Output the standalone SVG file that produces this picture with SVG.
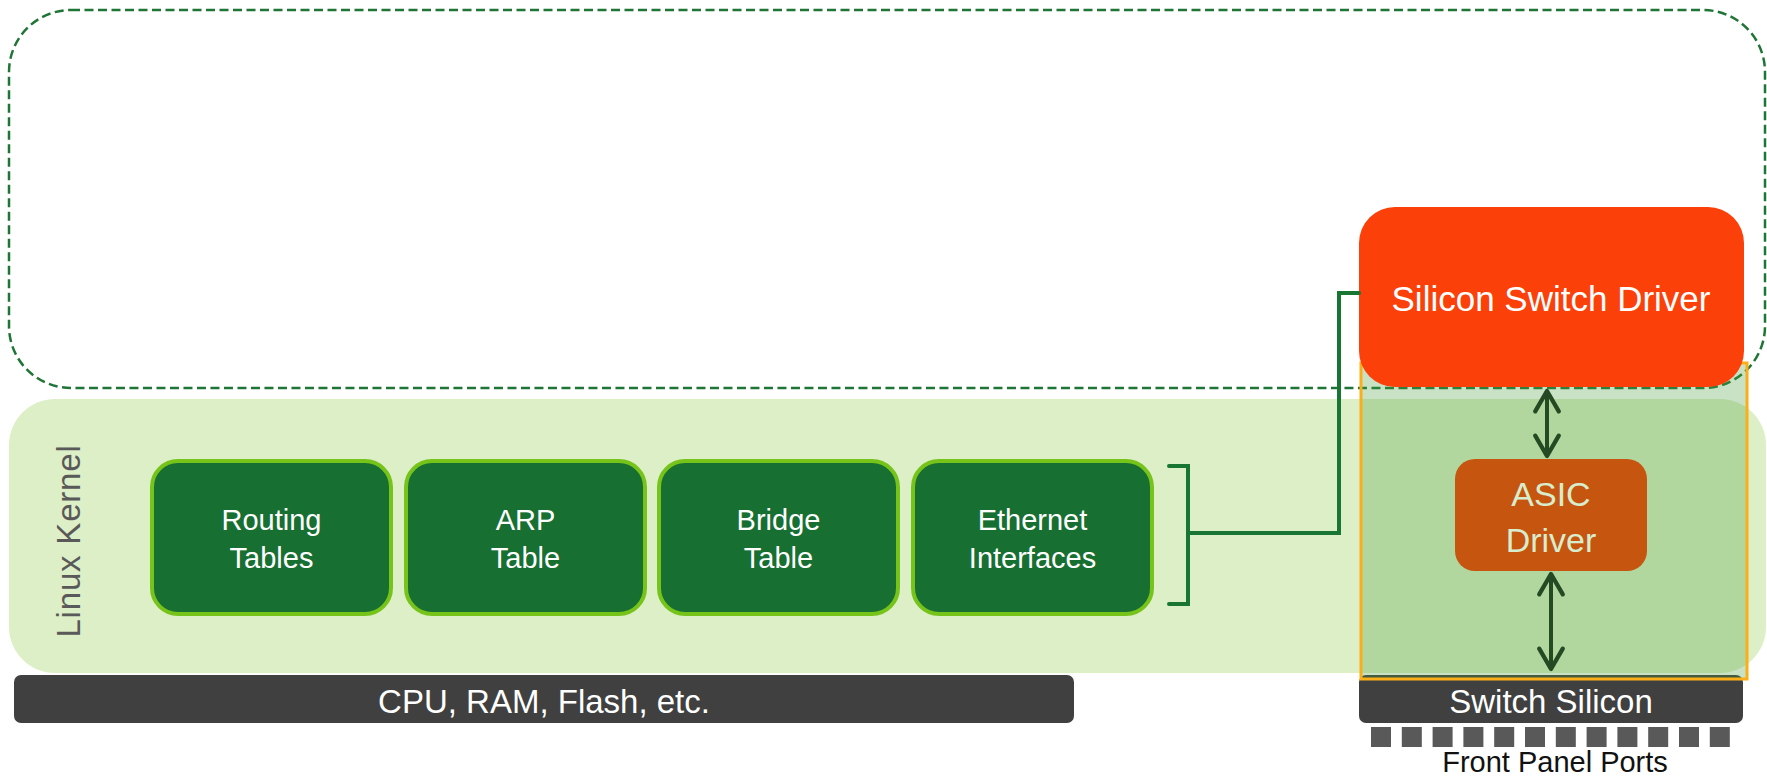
<svg xmlns="http://www.w3.org/2000/svg" width="1767" height="779" viewBox="0 0 1767 779">
  <style>
    .lbl { font-family: "Liberation Sans", Arial, sans-serif; text-anchor: middle; }
    .table { fill: #176F32; stroke: #76C31A; stroke-width: 4; }
    .table-text { fill: #FFFFFF; font-size: 29px; }
    .bar { fill: #404040; }
    .bar-text { fill: #FFFFFF; font-size: 33px; }
    .port { fill: #595959; }
    .link { fill: none; stroke: #187532; stroke-width: 4; stroke-linecap: round; }
    .dual { fill: none; stroke: #234A23; stroke-width: 4; }
  </style>
  <defs>
    <marker id="chev" markerUnits="userSpaceOnUse" markerWidth="30" markerHeight="30" viewBox="-22 -14 26 28" refX="0" refY="0" orient="auto-start-reverse" overflow="visible">
      <path d="M-19,-11 L0,0 L-19,11" fill="none" stroke="#234A23" stroke-width="4" stroke-linecap="round" stroke-linejoin="round"/>
    </marker>
  </defs>

  <rect width="1767" height="779" fill="#FFFFFF"/>

  <!-- kernel space -->
  <g id="linux-kernel">
    <rect x="9" y="399" width="1757" height="274" rx="46" fill="#DDEFC6"/>
    <text class="lbl" transform="translate(80,541) rotate(-90)" font-size="33" letter-spacing="0.8" fill="#595959">Linux Kernel</text>
  </g>

  <!-- user space outline -->
  <g id="user-space">
    <rect x="9" y="10" width="1756" height="378" rx="62" fill="none" stroke="#1E7535" stroke-width="2.5" stroke-dasharray="9 4.5"/>
  </g>

  <!-- hardware -->
  <g id="cpu-ram">
    <rect class="bar" x="14" y="675" width="1060" height="48" rx="7"/>
    <text class="lbl bar-text" x="544" y="713">CPU, RAM, Flash, etc.</text>
  </g>

  <g id="switch-silicon">
    <rect class="bar" x="1359" y="675" width="384" height="48" rx="7"/>
    <text class="lbl bar-text" x="1551" y="713">Switch Silicon</text>
  </g>

  <g id="switch-region">
    <rect x="1361" y="363" width="386" height="316" fill="rgb(75,158,65)" fill-opacity="0.3" stroke="#FBAE17" stroke-width="3"/>
  </g>

  <g id="front-panel-ports">
    <rect class="port" x="1371" y="727" width="20" height="20"/>
    <rect class="port" x="1401.8" y="727" width="20" height="20"/>
    <rect class="port" x="1432.6" y="727" width="20" height="20"/>
    <rect class="port" x="1463.4" y="727" width="20" height="20"/>
    <rect class="port" x="1494.2" y="727" width="20" height="20"/>
    <rect class="port" x="1525" y="727" width="20" height="20"/>
    <rect class="port" x="1555.8" y="727" width="20" height="20"/>
    <rect class="port" x="1586.6" y="727" width="20" height="20"/>
    <rect class="port" x="1617.4" y="727" width="20" height="20"/>
    <rect class="port" x="1648.2" y="727" width="20" height="20"/>
    <rect class="port" x="1679" y="727" width="20" height="20"/>
    <rect class="port" x="1709.8" y="727" width="20" height="20"/>
    <text class="lbl" x="1555" y="772" font-size="29" fill="#111111">Front Panel Ports</text>
  </g>

  <!-- kernel tables -->
  <g id="routing-tables">
    <rect class="table" x="152" y="461" width="239" height="153" rx="26"/>
    <text class="lbl table-text" x="271.5" y="530">Routing</text>
    <text class="lbl table-text" x="271.5" y="568">Tables</text>
  </g>
  <g id="arp-table">
    <rect class="table" x="406" y="461" width="239" height="153" rx="26"/>
    <text class="lbl table-text" x="525.5" y="530">ARP</text>
    <text class="lbl table-text" x="525.5" y="568">Table</text>
  </g>
  <g id="bridge-table">
    <rect class="table" x="659" y="461" width="239" height="153" rx="26"/>
    <text class="lbl table-text" x="778.5" y="530">Bridge</text>
    <text class="lbl table-text" x="778.5" y="568">Table</text>
  </g>
  <g id="ethernet-interfaces">
    <rect class="table" x="913" y="461" width="239" height="153" rx="26"/>
    <text class="lbl table-text" x="1032.5" y="530">Ethernet</text>
    <text class="lbl table-text" x="1032.5" y="568">Interfaces</text>
  </g>

  <!-- drivers -->
  <g id="silicon-switch-driver">
    <rect x="1359" y="207" width="385" height="180" rx="36" fill="#FC400A"/>
    <text class="lbl" x="1551" y="311" font-size="35" fill="#FFFFFF">Silicon Switch Driver</text>
  </g>
  <g id="asic-driver">
    <rect x="1455" y="459" width="192" height="112" rx="20" fill="#C6550F"/>
    <text class="lbl" x="1551" y="506" font-size="34" fill="#D7EDCE">ASIC</text>
    <text class="lbl" x="1551" y="552" font-size="34" fill="#D7EDCE">Driver</text>
  </g>

  <!-- connectors -->
  <g id="connectors">
    <path class="link" d="M1169,466 H1188 V604 H1169"/>
    <path class="link" d="M1188,533 H1339 V293 H1359" stroke-linecap="butt"/>
    <line class="dual" x1="1547" y1="391" x2="1547" y2="456" marker-start="url(#chev)" marker-end="url(#chev)"/>
    <line class="dual" x1="1551" y1="574" x2="1551" y2="669" marker-start="url(#chev)" marker-end="url(#chev)"/>
  </g>
</svg>
